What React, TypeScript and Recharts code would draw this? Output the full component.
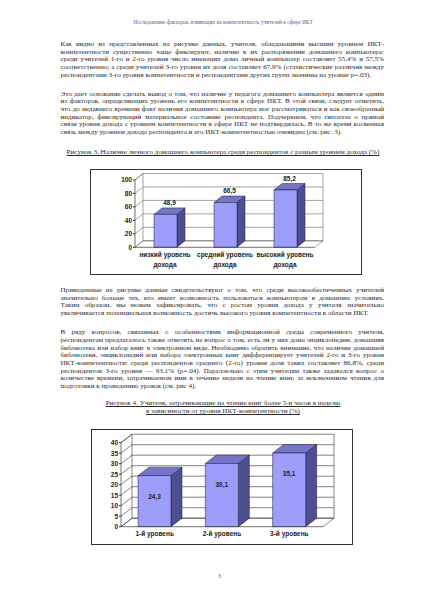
import React from 'react'
import { BarChart, Bar, XAxis, YAxis, CartesianGrid, LabelList } from 'recharts'

// Рисунок 3
const incomeLevels = ['низкий уровень дохода', 'средний уровень дохода', 'высокий уровень дохода']
const homeComputerShare = [48.9, 66.5, 85.2]
const incomeTicks = [0, 20, 40, 60, 80, 100]

// Рисунок 4
const ictLevels = ['1-й уровень', '2-й уровень', '3-й уровень']
const readingShare = [24.3, 30.1, 35.1]
const readingTicks = [0, 5, 10, 15, 20, 25, 30, 35, 40]

const header = 'Исследование факторов, влияющих на компетентность учителей в сфере ИКТ'

const para1 = [
  'Как видно из представленных на рисунке данных, учителя, обладающими высшим уровнем ИКТ-',
  'компетентности существенно чаще фиксируют, наличие в их распоряжении домашнего компьютера:',
  'среди учителей 1-го и 2-го уровня число имеющих дома личный компьютер составляет 55,4% и 57,5%',
  'соответственно; а среди учителей 3-го уровня их доля составляет 67,9% (статистические различия между',
  'респондентами 3-го уровня компетентности и респондентами других групп значимы на уровне p=.03).',
]
const para2 = [
  'Это дает основание сделать вывод о том, что наличие у педагога домашнего компьютера является одним',
  'из факторов, определяющих уровень его компетентности в сфере ИКТ. В этой связи, следует отметить,',
  'что до недавнего времени факт наличия домашнего компьютера мог рассматриваться и как своеобразный',
  'индикатор, фиксирующий материальное состояние респондента. Подчеркнем, что гипотеза о прямой',
  'связи уровня дохода с уровнем компетентности в сфере ИКТ не подтвердилась. В то же время косвенная',
  'связь между уровнем дохода респондента и его ИКТ-компетентностью очевидна (см. рис. 3).',
]
const caption3 = 'Рисунок 3. Наличие личного домашнего компьютера среди респондентов с разным уровнем дохода (%)'
const para3 = [
  'Приведенные на рисунке данные свидетельствуют о том, что среди высокообеспеченных учителей',
  'значительно больше тех, кто имеет возможность пользоваться компьютером в домашних условиях.',
  'Таким образом, мы можем зафиксировать, что с ростом уровня дохода у учителя значительно',
  'увеличивается потенциальная возможность достичь высокого уровня компетентности в области ИКТ.',
]
const para4 = [
  'В ряду вопросов, связанных с особенностями информационной среды современного учителя,',
  'респондентам предлагалось также ответить на вопрос о том, есть ли у них дома энциклопедии, домашняя',
  'библиотека или набор книг в электронном виде. Необходимо обратить внимание, что наличие домашней',
  'библиотеки, энциклопедий или набора электронных книг дифференцирует учителей 2-го и 3-го уровня',
  'ИКТ-компетентности: среди респондентов среднего (2-го) уровня доля таких составляет 86,8%, среди',
  'респондентов 3-го уровня — 93,1% (p=.04). Параллельно с этим учителям также задавался вопрос о',
  'количестве времени, затрачиваемом ими в течение недели на чтение книг, за исключением чтения для',
  'подготовки к проведению уроков (см. рис 4).',
]
const caption4 = [
  'Рисунок 4. Учителя, затрачивающие на чтение книг более 5-и часов в неделю',
  'в зависимости от уровня ИКТ-компетентности (%)',
]

const chart1Data = incomeLevels.map((name, i) => ({ name, value: homeComputerShare[i] }))
const chart2Data = ictLevels.map((name, i) => ({ name, value: readingShare[i] }))

const serif = '"Liberation Serif", "Times New Roman", serif'
const sans = '"Liberation Sans", Arial, sans-serif'
const LH = 7.65

const fmt = (v: any) => String(v).replace('.', ',')

function Para({ top, lines }: { top: number; lines: string[] }) {
  return (
    <div
      style={{
        position: 'absolute',
        left: 60.5,
        top,
        width: 323.5,
        fontFamily: serif,
        fontSize: 7.1,
        lineHeight: `${LH}px`,
        color: '#2b2b2b',
      }}
    >
      {lines.map((t, i) => (
        <div
          key={i}
          style={{
            height: LH,
            whiteSpace: 'nowrap',
            textAlign: 'justify',
            textAlignLast: i === lines.length - 1 ? 'left' : 'justify',
          }}
        >
          {t}
        </div>
      ))}
    </div>
  )
}

function Caption({ top, lines }: { top: number; lines: string[] }) {
  return (
    <div
      style={{
        position: 'absolute',
        left: 0,
        width: 446,
        top,
        textAlign: 'center',
        fontFamily: serif,
        fontSize: 7.1,
        lineHeight: '8.2px',
        color: '#2b2b2b',
        textDecoration: 'underline',
      }}
    >
      {lines.map((t, i) => (
        <div key={i}>{t}</div>
      ))}
    </div>
  )
}

// 3D bar: front face, top and right side
function bar3d(dx: number, dy: number) {
  return (p: any) => {
    const { x, y, width: w, height: h } = p
    return (
      <g stroke="#1a1a33" strokeWidth={0.5} strokeLinejoin="round">
        <polygon points={`${x + w},${y} ${x + w + dx},${y + dy} ${x + w + dx},${y + h + dy} ${x + w},${y + h}`} fill="#4e4e92" />
        <polygon points={`${x},${y} ${x + dx},${y + dy} ${x + w + dx},${y + dy} ${x + w},${y}`} fill="#7474c8" />
        <rect x={x} y={y} width={w} height={h} fill="#9d9dfb" />
      </g>
    )
  }
}

// back wall + left wall drawn from the grid's own line positions
function wallGrid(dx: number, dy: number, color: string) {
  return (p: any) => {
    const { x1, x2, y1, index } = p
    const top = p.y
    const bottom = p.y + p.height
    return (
      <g stroke={color} strokeWidth={0.6} fill="none">
        <line x1={x1 + dx} y1={y1 + dy} x2={x2 + dx} y2={y1 + dy} />
        <line x1={x1} y1={y1} x2={x1 + dx} y2={y1 + dy} />
        {index === 0 && (
          <g>
            <line x1={x1 + dx} y1={top + dy} x2={x1 + dx} y2={bottom + dy} />
            <line x1={x2 + dx} y1={top + dy} x2={x2 + dx} y2={bottom + dy} />
            <line x1={x2} y1={bottom} x2={x2 + dx} y2={bottom + dy} />
            <line x1={x1 + dx} y1={bottom + dy} x2={x2 + dx} y2={bottom + dy} />
            <line x1={x1} y1={bottom} x2={x1 + dx} y2={bottom + dy} />
            <line x1={x1} y1={top} x2={x1 + dx} y2={top + dy} />
          </g>
        )}
      </g>
    )
  }
}

function IncomeTick(p: any) {
  const words = String(p.payload.value).split(' ')
  return (
    <text x={p.x} y={p.y} textAnchor="middle" fontFamily={sans} fontSize={6.5} fontWeight="bold" fill="#222">
      <tspan x={p.x} dy={9.3}>{words.slice(0, 2).join(' ')}</tspan>
      <tspan x={p.x} dy={10}>{words.slice(2).join(' ')}</tspan>
    </text>
  )
}

function LevelTick(p: any) {
  return (
    <text x={p.x} y={p.y} dy={8.9} textAnchor="middle" fontFamily={sans} fontSize={6.5} fontWeight="bold" fill="#222">
      {p.payload.value}
    </text>
  )
}

const yTick = { fontFamily: sans, fontSize: 6.5, fontWeight: 'bold', fill: '#222' } as any

function IncomeChart() {
  const dx = 8
  const dy = -6.5
  return (
    <div style={{ position: 'absolute', left: 90, top: 169, width: 272, height: 106, outline: '1px solid #333', outlineOffset: -1, background: '#fff' }}>
      <BarChart width={272} height={106} data={chart1Data} margin={{ top: 11, right: 47, bottom: 1.7, left: 17 }}>
        <CartesianGrid vertical={false} horizontal={wallGrid(dx, dy, '#666')} />
        <XAxis dataKey="name" interval={0} height={26} tickLine={false} tickSize={0} tickMargin={0} axisLine={{ stroke: '#333', strokeWidth: 0.7 }} tick={<IncomeTick />} />
        <YAxis width={28} domain={[0, 100]} ticks={incomeTicks} interval={0} tickSize={2} tickMargin={1} tickLine={{ stroke: '#333' }} axisLine={{ stroke: '#333', strokeWidth: 0.7 }} tick={yTick} />
        <Bar dataKey="value" barSize={23} isAnimationActive={false} shape={bar3d(dx, dy)}>
          <LabelList
            dataKey="value"
            content={(p: any) => (
              <text x={p.x + p.width / 2 + dx / 2} y={p.y + dy - 2.7} textAnchor="middle" fontFamily={sans} fontSize={6.5} fontWeight="bold" fill="#222">
                {fmt(p.value)}
              </text>
            )}
          />
        </Bar>
      </BarChart>
    </div>
  )
}

function ReadingChart() {
  const dx = 11
  const dy = -8.5
  return (
    <div style={{ position: 'absolute', left: 91, top: 429, width: 262, height: 116, outline: '1px solid #333', outlineOffset: -1, background: '#fff' }}>
      <BarChart width={262} height={116} data={chart2Data} margin={{ top: 13.7, right: 30, bottom: 2.3, left: 8 }}>
        <CartesianGrid vertical={false} horizontal={wallGrid(dx, dy, '#333')} />
        <XAxis dataKey="name" interval={0} height={16} tickLine={false} tickSize={0} tickMargin={0} axisLine={{ stroke: '#333', strokeWidth: 0.7 }} tick={<LevelTick />} />
        <YAxis width={22} domain={[0, 40]} ticks={readingTicks} interval={0} tickSize={2} tickMargin={1} tickLine={{ stroke: '#333' }} axisLine={{ stroke: '#333', strokeWidth: 0.7 }} tick={yTick} />
        <Bar dataKey="value" barSize={33} isAnimationActive={false} shape={bar3d(dx, dy)}>
          <LabelList
            dataKey="value"
            content={(p: any) => (
              <text x={p.x + p.width / 2} y={p.y + 23.3} textAnchor="middle" fontFamily={sans} fontSize={6.5} fontWeight="bold" fill="#222">
                {fmt(p.value)}
              </text>
            )}
          />
        </Bar>
      </BarChart>
    </div>
  )
}

export default function App() {
  return (
    <div style={{ position: 'absolute', left: 0, top: 0, width: 424, height: 600, background: '#fff', overflow: 'hidden' }}>
      <div style={{ position: 'absolute', left: 0, width: 446, top: 19, textAlign: 'center', fontFamily: serif, fontSize: 5.4, color: '#5c5c8c' }}>
        {header}
      </div>
      <Para top={45 - LH / 2} lines={para1} />
      <Para top={94.5 - LH / 2} lines={para2} />
      <Caption top={148.2} lines={[caption3]} />
      <IncomeChart />
      <Para top={291 - LH / 2} lines={para3} />
      <Para top={333.3 - LH / 2} lines={para4} />
      <Caption top={399.2} lines={caption4} />
      <ReadingChart />
      <div style={{ position: 'absolute', left: 218, top: 573, fontFamily: serif, fontSize: 6, color: '#555' }}>3</div>
    </div>
  )
}
